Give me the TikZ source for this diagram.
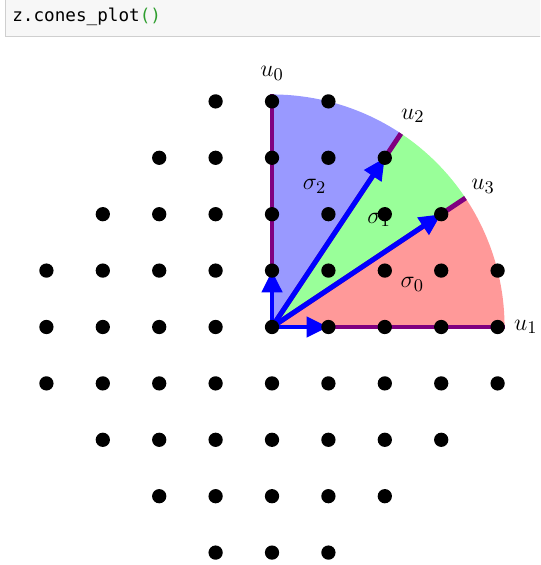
\documentclass[tikz,border=0pt]{standalone}
\usepackage{fontspec}
\usepackage{xcolor}
\usepackage{tikz}
\usetikzlibrary{arrows.meta, calc}
\newfontfamily\cellmono{DejaVu Sans Mono}
\definecolor{conered}{HTML}{FF9999}
\definecolor{conegreen}{HTML}{99FF99}
\definecolor{coneblue}{HTML}{9999FF}
\definecolor{raypurple}{HTML}{800080}
\definecolor{genblue}{HTML}{0000FF}
\definecolor{cellgray}{HTML}{F7F7F7}
\definecolor{cellborder}{HTML}{CFCFCF}
\definecolor{parengreen}{HTML}{2E9E2E}

\begin{document}
\begin{tikzpicture}[>={Triangle[length=11pt, width=10pt]}, font=\fontsize{13}{15}\selectfont,
    ray/.style={raypurple, line width=2.5pt},
    gen/.style={->, genblue, line width=2.5pt},
    lattice/.style={fill=black}]
    \useasboundingbox (-4.823,-4.220) rectangle (4.752,5.798);
    \clip (-4.823,-4.220) rectangle (4.752,5.798);

    % ── CODE CELL ─────────────────────────────────────────────────────
    \draw[cellborder, fill=cellgray] (-4.734,5.160) rectangle (5.2,6.2);
    \node[anchor=base west, inner sep=0pt, font=\cellmono\fontsize{8.9}{10}\selectfont] (cell)
        at (-4.611,5.408) {z.cones\_plot\textcolor{parengreen}{()}};

    % Origin, generators and ray ends
    \coordinate (O) at (0,0);
    \coordinate (g0) at (0,1);
    \coordinate (g1) at (1,0);
    \coordinate (g2) at (2,3);
    \coordinate (g3) at (3,2);
    \coordinate (r0) at (90:4.123);
    \coordinate (r1) at (0:4.123);
    \coordinate (r2) at (56.31:4.123);
    \coordinate (r3) at (33.69:4.123);

    % ── CONES ─────────────────────────────────────────────────────────
    \fill[conered] (O) -- (r1) arc[start angle=0, end angle=33.69, radius=4.123] -- cycle;
    \fill[conegreen] (O) -- (r3) arc[start angle=33.69, end angle=56.31, radius=4.123] -- cycle;
    \fill[coneblue] (O) -- (r2) arc[start angle=56.31, end angle=90, radius=4.123] -- cycle;

    % Rays
    \draw[ray] (O) -- (r0);
    \draw[ray] (O) -- (r1);
    \draw[ray] (O) -- (r2);
    \draw[ray] (O) -- (r3);

    % Generators
    \draw[gen] (O) -- (g0);
    \draw[gen] (O) -- (g1);
    \draw[gen] (O) -- (g2);
    \draw[gen] (O) -- (g3);

    % Labels
    \node (lu0) at (90:4.5) {$u_0$};
    \node (lu1) at (0:4.5) {$u_1$};
    \node (lu2) at (56.31:4.5) {$u_2$};
    \node (lu3) at (33.69:4.5) {$u_3$};
    \node (ls0) at (16.85:2.6) {$\sigma_0$};
    \node (ls1) at (1.9,1.9) {$\sigma_1$};
    \node (ls2) at (73.15:2.6) {$\sigma_2$};

    % ── LATTICE ───────────────────────────────────────────────────────
    \foreach \x in {-4,...,4}
        \foreach \y in {-4,...,4} {
            \pgfmathtruncatemacro{\rr}{\x*\x+\y*\y}
            \ifnum\rr<18 \fill[lattice] (\x,\y) circle (3.6pt); \fi
        }
\end{tikzpicture}
\end{document}
